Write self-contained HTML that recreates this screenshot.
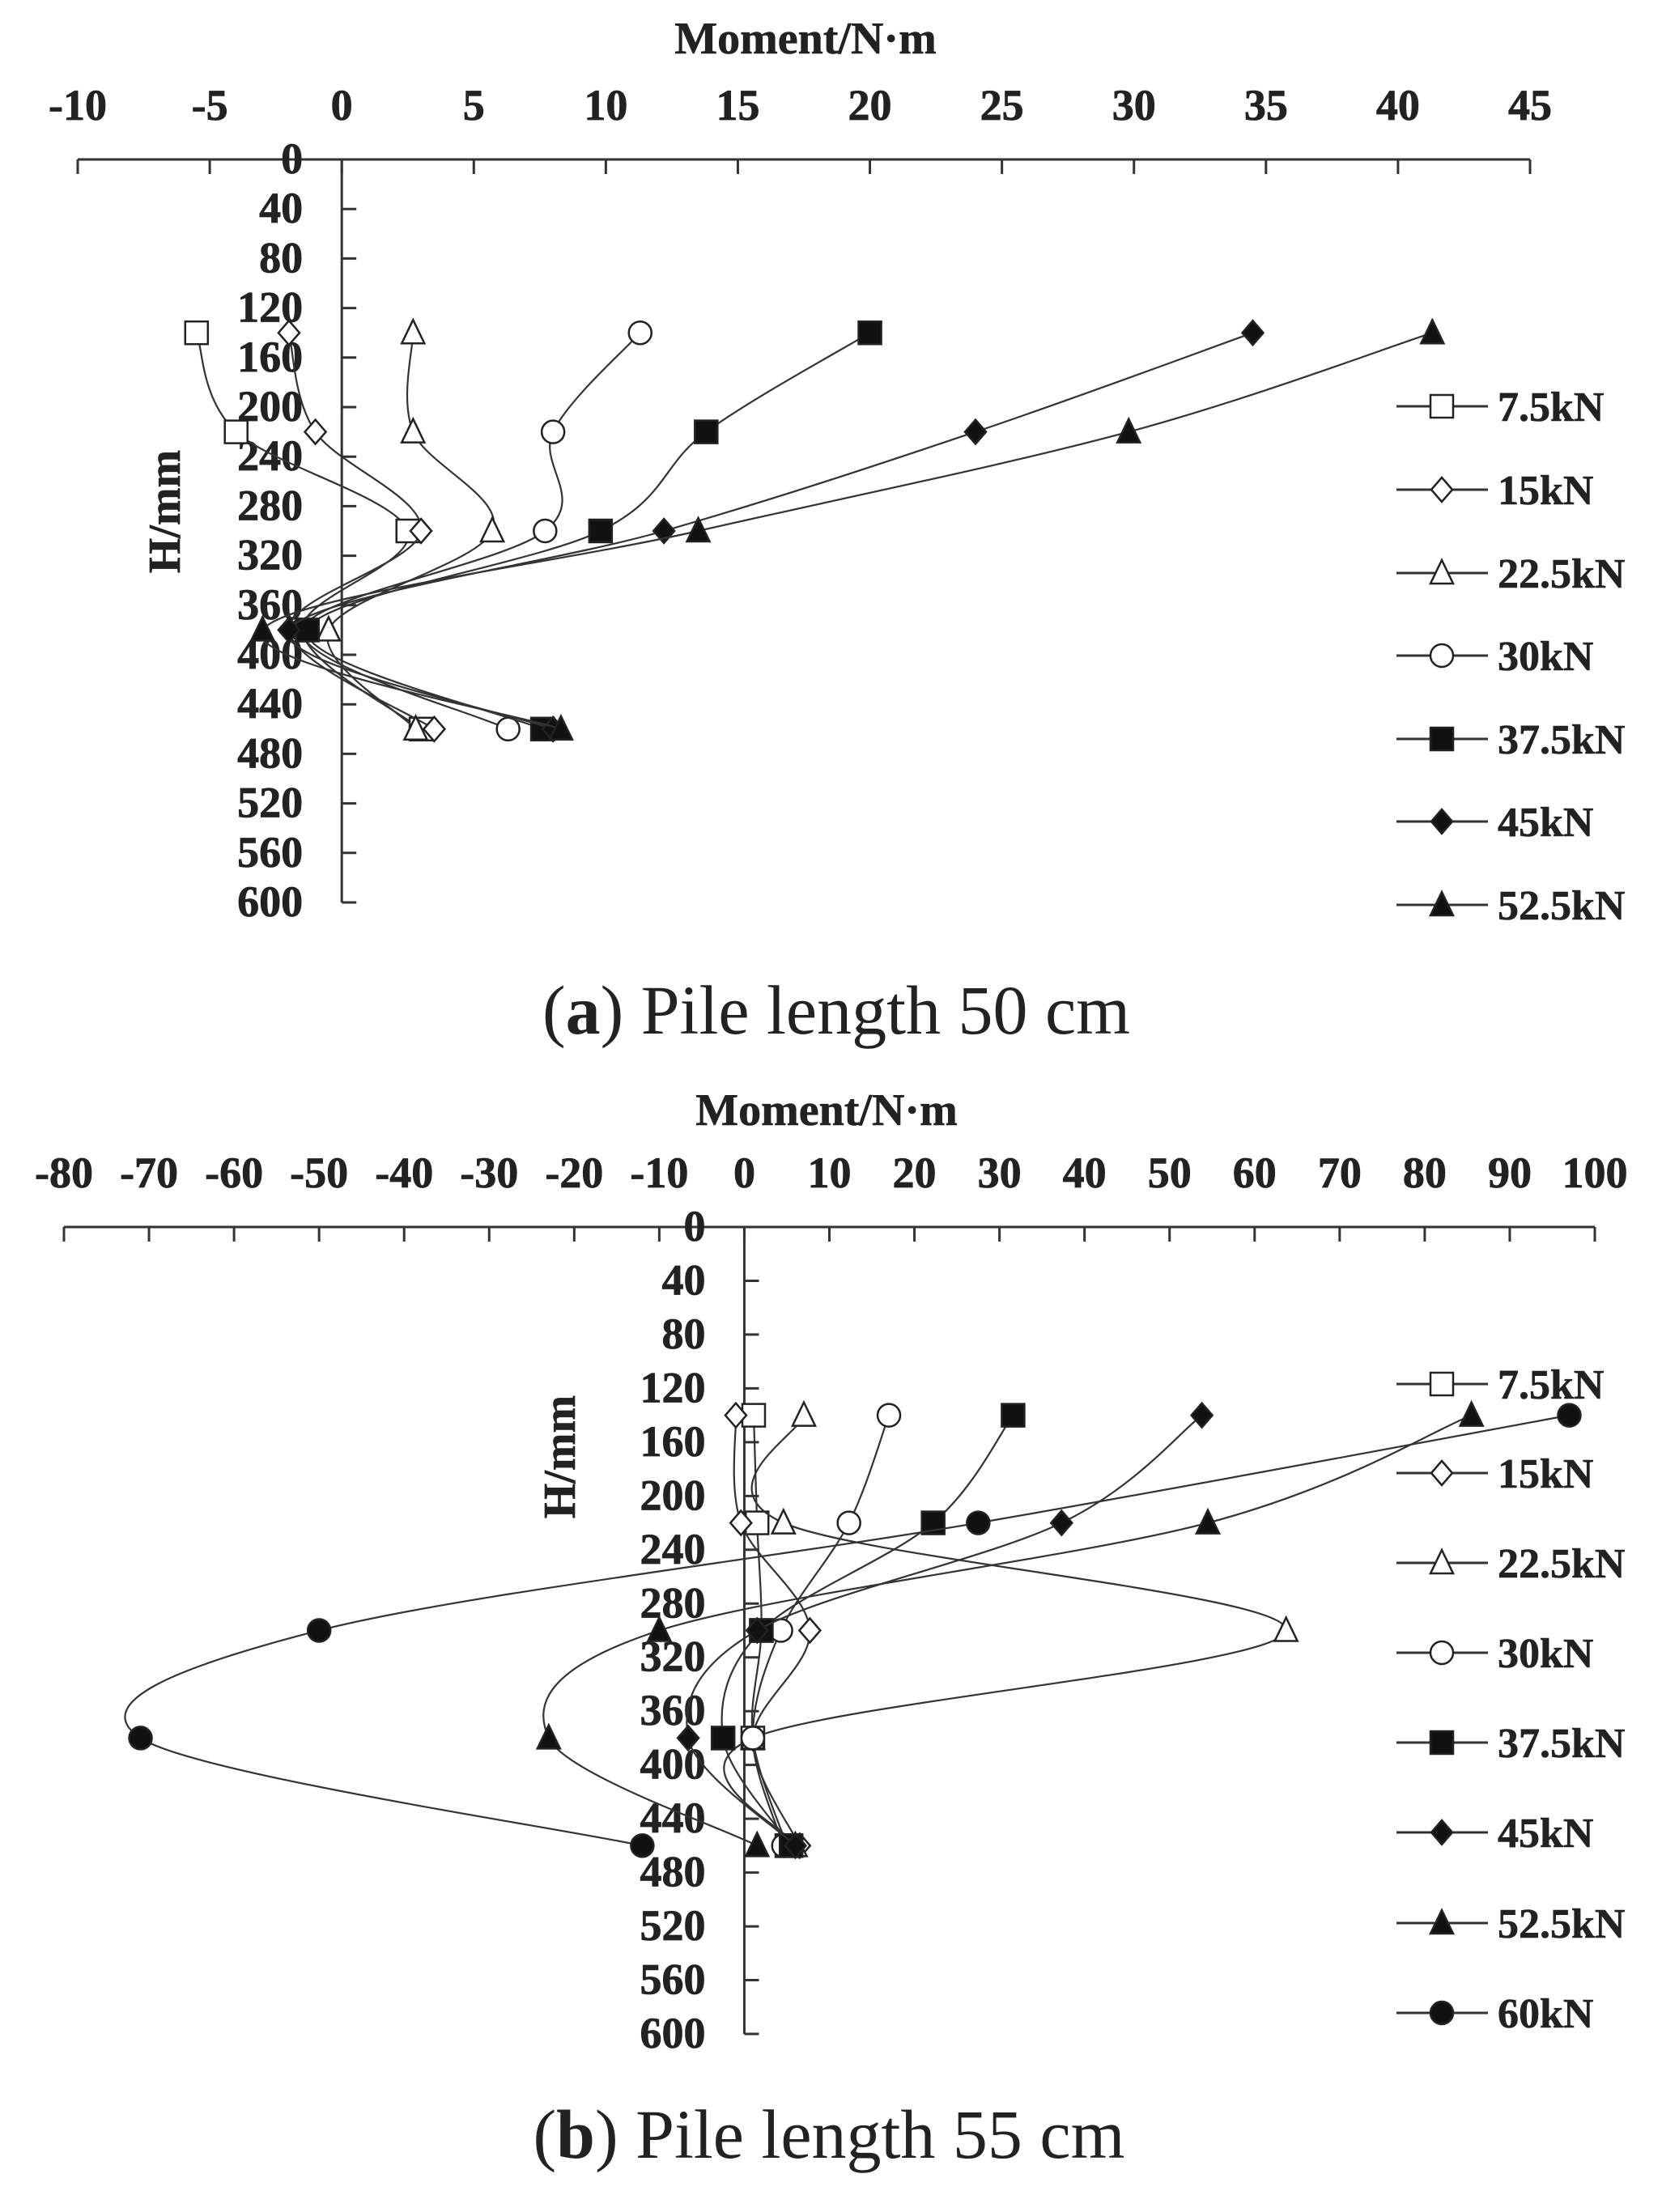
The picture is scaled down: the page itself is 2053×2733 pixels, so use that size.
<!DOCTYPE html>
<html><head><meta charset="utf-8"><style>
body{margin:0;background:#fff;}
svg{display:block;}
text{font-family:"Liberation Serif",serif;fill:#222;}
.t{font-weight:bold;font-size:54px;stroke:#222;stroke-width:0.8px;}
.lg{font-weight:bold;font-size:52px;stroke:#222;stroke-width:0.6px;}
.ttl{font-weight:bold;font-size:56px;stroke:#222;stroke-width:0.6px;}
.cap{font-size:86px;}
</style></head><body>
<svg id="s" width="2053" height="2733" viewBox="0 0 2053 2733">
<text class="cap" x="1033" y="1277" text-anchor="middle">(<tspan font-weight="bold">a</tspan>) Pile length 50 cm</text>
<text class="cap" x="1024" y="2666" text-anchor="middle">(<tspan font-weight="bold">b</tspan>) Pile length 55 cm</text>
</svg>
<script>
const depths=[140,220,300,380,460];
const seriesNamesA=["7.5kN","15kN","22.5kN","30kN","37.5kN","45kN","52.5kN"];
const a75=[-5.5,-4,2.5,-1.5,3];
const a15=[-2,-1,3,-2,3.5];
const a225=[2.7,2.7,5.7,-0.5,2.8];
const a30=[11.3,8,7.7,-1.5,6.3];
const a375=[20,13.8,9.8,-1.3,7.6];
const a45=[34.5,24,12.2,-2,8];
const a525=[41.3,29.8,13.5,-3,8.3];
const seriesNamesB=["7.5kN","15kN","22.5kN","30kN","37.5kN","45kN","52.5kN","60kN"];
const b75=[1.1,1.5,2,1,5];
const b15=[-1,-0.4,7.7,1,6.5];
const b225=[7,4.6,63.7,1,6];
const b30=[17,12.3,4.3,1,4.6];
const b375=[31.6,22.2,2,-2.5,5.5];
const b45=[53.8,37.3,1.5,-6.6,6];
const b525=[85.5,54.5,-10,-23,1.5];
const b60=[97,27.5,-50,-71,-12];
const xTicksA=[-10,-5,0,5,10,15,20,25,30,35,40,45];
const xTicksB=[-80,-70,-60,-50,-40,-30,-20,-10,0,10,20,30,40,50,60,70,80,90,100];
const yTicks=[0,40,80,120,160,200,240,280,320,360,400,440,480,520,560,600];
const markers=["sq","di","tr","ci","sqf","dif","trf","cif"];

const svg=document.getElementById('s');
const NS="http://www.w3.org/2000/svg";
function el(t,at,parent){const e=document.createElementNS(NS,t);for(const k in at)e.setAttribute(k,at[k]);(parent||svg).appendChild(e);return e;}

function marker(g,type,x,y){
  const fill=type.endsWith('f')?'#111':'#fff';const b=type.replace('f','');
  const st={fill:fill,stroke:'#222','stroke-width':2.5};let m;
  if(b==='sq')m=el('rect',Object.assign({x:x-14,y:y-14,width:28,height:28},st),g);
  else if(b==='di')m=el('polygon',Object.assign({points:`${x},${y-15} ${x+13},${y} ${x},${y+15} ${x-13},${y}`},st),g);
  else if(b==='tr')m=el('polygon',Object.assign({points:`${x},${y-16} ${x+14},${y+13} ${x-14},${y+13}`},st),g);
  else m=el('circle',Object.assign({cx:x,cy:y,r:14},st),g);
  
  
}
function spline(p){
  let d=`M${p[0][0]},${p[0][1]}`;
  for(let i=0;i<p.length-1;i++){
    const p0=p[i-1]||p[i],p1=p[i],p2=p[i+1],p3=p[i+2]||p[i+1];
    const c1=[p1[0]+(p2[0]-p0[0])/6,p1[1]+(p2[1]-p0[1])/6];
    const c2=[p2[0]-(p3[0]-p1[0])/6,p2[1]-(p3[1]-p1[1])/6];
    d+=`C${c1[0]},${c1[1]} ${c2[0]},${c2[1]} ${p2[0]},${p2[1]}`;
  }
  return d;
}
function chart(cfg){
  const g=el('g',{});
  
  
  const X=v=>cfg.x0+(v-cfg.xmin)/(cfg.xmax-cfg.xmin)*(cfg.x1-cfg.x0);
  const Y=v=>cfg.y0+v/600*(cfg.y1-cfg.y0);
  const t=el('text',{class:'ttl',x:cfg.tx,y:cfg.ty,'text-anchor':'middle'},g);t.textContent='Moment/N·m';
  
  const ax=el('line',{x1:X(cfg.xmin),x2:X(cfg.xmax),y1:cfg.y0,y2:cfg.y0,stroke:'#333','stroke-width':3},g);
  
  cfg.xt.forEach(v=>{
    el('line',{x1:X(v),x2:X(v),y1:cfg.y0,y2:cfg.y0+18,stroke:'#333','stroke-width':3},g);
    const tt=el('text',{class:'t',x:X(v),y:cfg.y0-49,'text-anchor':'middle'},g);tt.textContent=v;
    
  });
  const ay=el('line',{x1:X(0),x2:X(0),y1:cfg.y0,y2:cfg.y1,stroke:'#333','stroke-width':3},g);
  
  yTicks.forEach(v=>{
    el('line',{x1:X(0),x2:X(0)+18,y1:Y(v),y2:Y(v),stroke:'#333','stroke-width':3},g);
    const tt=el('text',{class:'t',x:X(0)-48,y:Y(v)+17,'text-anchor':'end'},g);tt.textContent=v;
    
  });
  const yt=el('text',{class:'ttl',x:0,y:0,'text-anchor':'middle',transform:`translate(${cfg.hx},${cfg.hy}) rotate(-90)`},g);yt.textContent='H/mm';
  
  cfg.series.forEach((s,i)=>{
    const pts=s.map((v,j)=>[X(v),Y(depths[j])]);
    const p=el('path',{d:spline(pts),fill:'none',stroke:'#333','stroke-width':2.2},g);
    
    
    pts.forEach(q=>marker(g,markers[i],q[0],q[1]));
    const ly=cfg.ly[i];
    const ll=el('line',{x1:1725,x2:1838,y1:ly,y2:ly,stroke:'#333','stroke-width':3},g);
    
    marker(g,markers[i],1781,ly);
    const lt=el('text',{class:'lg',x:1850,y:ly+18},g);lt.textContent=cfg.names[i];
    
  });
}
chart({name:'chart-a',xmin:-10,xmax:45,x0:96,x1:1890,y0:197,y1:1115,tx:995,ty:66,hx:222,hy:632,
  xt:xTicksA,series:[a75,a15,a225,a30,a375,a45,a525],names:seriesNamesA,
  ly:[502,605,708,810,913,1015,1118]});
chart({name:'chart-b',xmin:-80,xmax:100,x0:79,x1:1970,y0:1516,y1:2513,tx:1021,ty:1390,hx:710,hy:1800,
  xt:xTicksB,series:[b75,b15,b225,b30,b375,b45,b525,b60],names:seriesNamesB,
  ly:[1710,1820,1931,2042,2153,2264,2376,2487]});
</script>
</body></html>
